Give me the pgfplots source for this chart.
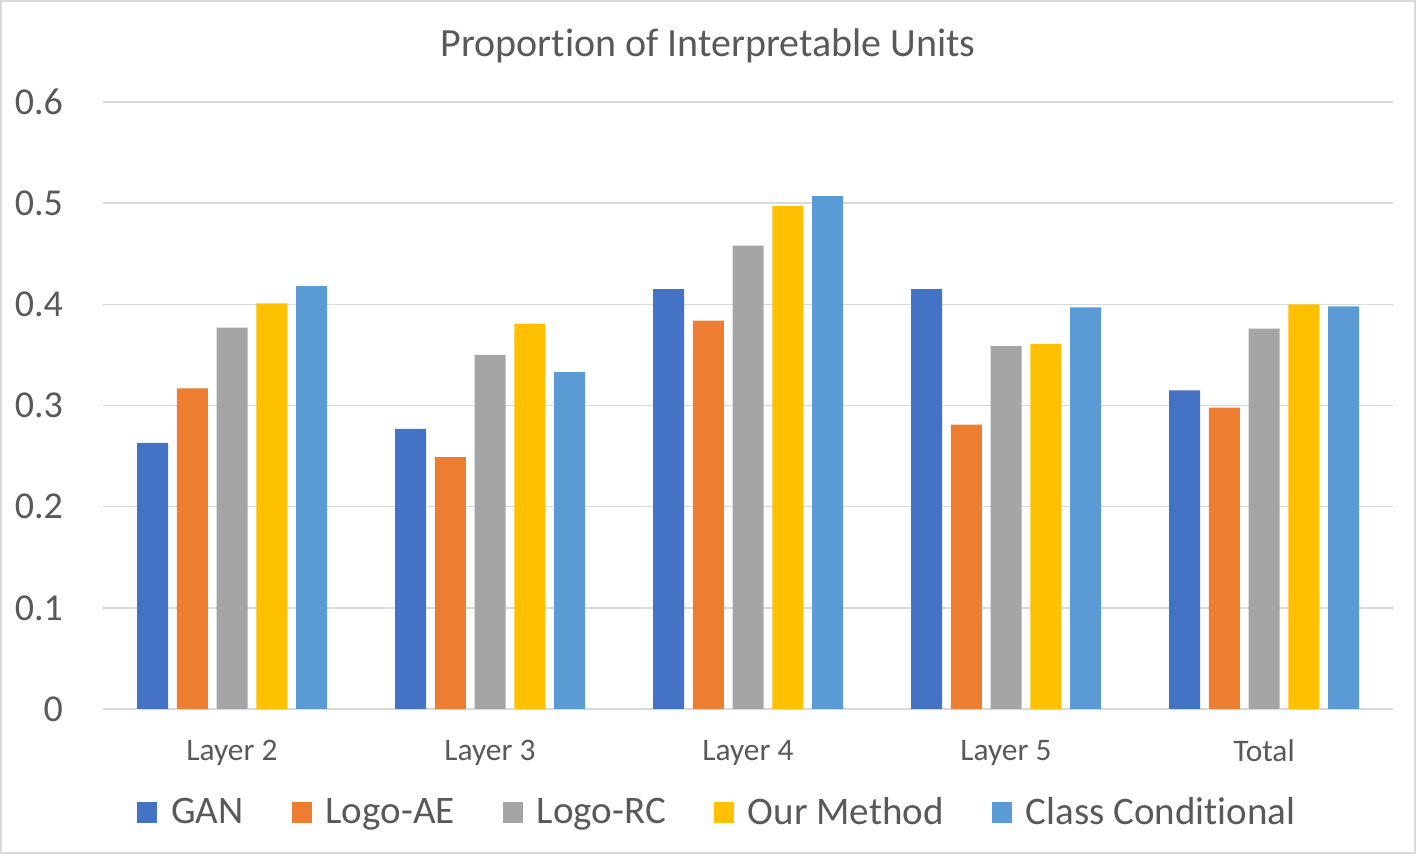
\documentclass[border=0pt]{standalone}
\usepackage{fontspec}
\setmainfont{Carlito}[Ligatures=NoCommon]
\usepackage{pgfplots}
\pgfplotsset{compat=1.18}
\definecolor{cgan}{HTML}{4472C4}
\definecolor{cae}{HTML}{ED7D31}
\definecolor{crc}{HTML}{A5A5A5}
\definecolor{cour}{HTML}{FFC000}
\definecolor{ccc}{HTML}{5B9BD5}
\definecolor{textgray}{HTML}{595959}
\definecolor{gridgray}{HTML}{D9D9D9}
\begin{document}
\begin{tikzpicture}
\useasboundingbox (0,0) rectangle (708pt,427pt);
\draw[color=gridgray, line width=1pt] (0.5pt,0.5pt) rectangle (707.5pt,426.5pt);
\begin{axis}[
  at={(51.5pt,72.5pt)}, anchor=south west,
  scale only axis, width=645pt, height=303.5pt,
  xmin=-0.5, xmax=4.5, ymin=0, ymax=0.6,
  ybar=4.375pt, bar width=15.5pt,
  xtick={0,1,2,3,4},
  xticklabels={Layer 2,Layer 3,Layer 4,Layer 5,Total},
  ytick={0,0.1,0.2,0.3,0.4,0.5,0.6},
  yticklabels={0,0.1,0.2,0.3,0.4,0.5,0.6},
  axis lines*=left,
  y axis line style={draw=none},
  x axis line style={draw=gridgray, line width=0.9pt},
  major tick length=0pt,
  ymajorgrids, grid style={draw=gridgray, line width=0.8pt},
  yticklabel style={font=\fontsize{19}{23}\selectfont, text=textgray, xshift=-16.5pt},
  xticklabel style={font=\fontsize{15.7}{19}\selectfont, text=textgray, yshift=-12pt},
  title={Proportion of Interpretable Units},
  title style={at={(0.469,1.072)}, anchor=center, font=\fontsize{20}{24}\selectfont, text=textgray},
  legend style={at={(0.477,-0.17)}, anchor=center, draw=none, fill=none,
    font=\fontsize{19.5}{23}\selectfont, text=textgray,
    /tikz/every even column/.append style={column sep=22pt}},
  legend columns=-1,
  legend image code/.code={\fill[#1] (0pt,-5.25pt) rectangle (10pt,5.25pt); \path (15pt,0pt);},
]
\addplot[draw=none, fill=cgan] coordinates {(0,0.263) (1,0.277) (2,0.415) (3,0.415) (4,0.315)};
\addplot[draw=none, fill=cae] coordinates {(0,0.317) (1,0.249) (2,0.384) (3,0.281) (4,0.298)};
\addplot[draw=none, fill=crc] coordinates {(0,0.377) (1,0.350) (2,0.458) (3,0.359) (4,0.376)};
\addplot[draw=none, fill=cour] coordinates {(0,0.401) (1,0.381) (2,0.497) (3,0.361) (4,0.400)};
\addplot[draw=none, fill=ccc] coordinates {(0,0.418) (1,0.333) (2,0.507) (3,0.397) (4,0.398)};
\legend{GAN,Logo-AE,Logo-RC,Our Method,Class Conditional}
\end{axis}
\end{tikzpicture}
\end{document}
